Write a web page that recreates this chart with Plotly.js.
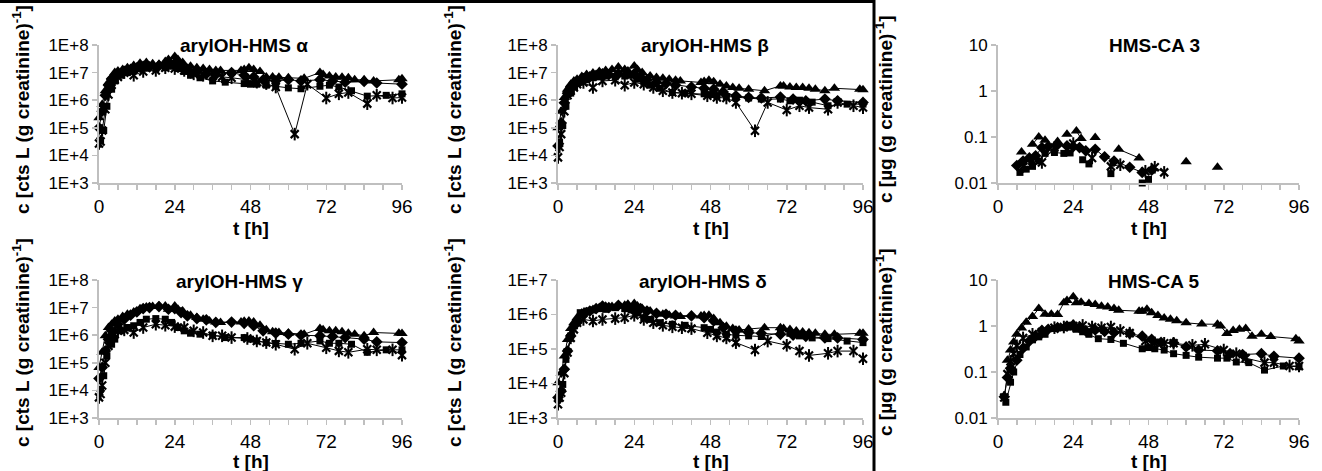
<!DOCTYPE html>
<html>
<head>
<meta charset="utf-8">
<script src="https://cdn.plot.ly/plotly-3.0.1.min.js"></script>
<style>html,body{margin:0;padding:0;background:#fff;}#chart{width:1322px;height:471px;}</style>
</head>
<body>
<div id="chart"></div>
<script>
// ---------- sampling times [h] per series ----------
const tD = [0, 1, 2, 3, 4, 6, 8, 10, 12, 14, 16, 19, 22, 24, 26, 28, 31, 34, 37, 42, 46, 49, 52, 56, 60, 64, 70, 74, 78, 84, 88, 96];
const tS = [0.5, 1.5, 2.5, 4, 5, 7, 9, 11, 13, 15, 18, 21, 23, 25, 27, 29, 32, 36, 40, 46, 48, 50, 53, 56, 60, 64, 70, 73, 76, 80, 85, 91, 96];
const tT = [0, 1, 2, 3, 4, 5, 6, 7.5, 9, 11, 13, 15, 17, 19, 21, 22, 24, 25, 26.5, 29, 31, 33, 35, 37, 38.5, 45, 46, 47.5, 49, 51, 53, 55, 57, 60, 65, 70, 71, 73, 75, 77, 79, 81, 84, 87, 95, 96];
const tX = [0, 0.5, 1, 2, 3, 4, 5, 6, 8, 11, 14, 18, 21, 24, 27, 30, 33, 36, 39, 42, 47, 50, 53, 56, 62, 66, 72, 76, 79, 85, 88, 93, 96];

// ---------- arylOH-HMS alpha ----------
const alphaD = [1.0e5,4e5,1.5e6,3.5e6,6e6,9e6,1.1e7, 1.3e7,1.5e7,1.7e7,1.6e7,1.8e7,2.0e7,2.2e7, 1.7e7,1.3e7,1.1e7,9e6,8.5e6,1.0e7, 8e6,7e6,5.5e6,5e6,5.5e6,5e6, 5.5e6,5e6,4.5e6,4.8e6,4.2e6,3.8e6];
const alphaS = [3.5e4,8e4,6e5,2.5e6,5e6,8e6,1.0e7, 1.2e7,1.4e7,1.5e7,1.4e7,1.5e7,1.7e7,1.4e7, 1.1e7,8e6,6.5e6,5e6,4.5e6,4e6,3.8e6, 3.8e6,3.5e6,3.2e6,2.8e6,2.6e6,3.2e6, 3.5e6,3e6,2.2e6,1.4e6,1.5e6,1.7e6];
const alphaT = [2.3e5,7e5,2.2e6,4.4e6,6.6e6,1.0e7,1.15e7, 1.3e7,1.5e7,1.8e7,2.2e7,2.3e7,2.1e7,2.0e7,2.5e7,3.0e7, 3.8e7,3.0e7,2.3e7,1.7e7,1.5e7,1.4e7,1.3e7,1.2e7,1.2e7, 1.2e7,1.3e7,1.5e7,1.3e7,1.1e7,7e6,7e6,6.8e6,6.5e6, 6.2e6,1.0e7,8.5e6,7.5e6,7e6,6.8e6,6.5e6,5.5e6,5.5e6,5e6,5.5e6,6e6];
const alphaX = [2.7e4,3.2e4,8e4,4.7e5,1.6e6,3.6e6,5.5e6,7e6, 1.0e7,8e6,1.1e7,1.2e7,1.5e7,1.4e7,1.2e7, 9e6,8e6,7.5e6,7e6,6.5e6,5.5e6,4.5e6, 4e6,3e6,5.9e4,3.8e6,1.2e6,1.7e6, 1.9e6,7.5e5,1.5e6,1.2e6,1.25e6];

// ---------- arylOH-HMS beta ----------
const betaD = [2.2e4,1.5e5,8e5,1.8e6,3e6,4.5e6,6e6, 7e6,8e6,9e6,8.5e6,9e6,9.5e6,9e6, 7e6,5.5e6,4.5e6,4e6,3.5e6,3e6, 2.7e6,2.5e6,2e6,1.45e6,1.26e6,1.2e6, 1.3e6,1.1e6,9.5e5,1.1e6,9.5e5,8.3e5];
const betaS = [3e4,1.2e5,6e5,1.8e6,3e6,4.5e6,5.5e6, 6.5e6,7e6,7.5e6,7e6,7.5e6,8e6,5.8e6, 4.5e6,3.5e6,2.7e6,1.9e6,1.8e6,1.7e6,1.6e6, 1.45e6,1.35e6,1.26e6,1.2e6,1.1e6,1.1e6, 9.5e5,1e6,8.5e5,6.3e5,7.2e5,7.2e5];
const betaT = [1e5,4e5,1.26e6,2.5e6,3.8e6,5e6,5.8e6, 7.2e6,8.5e6,9.6e6,1.1e7,1.2e7,1.3e7,1.6e7,1.3e7,1.15e7, 1.74e7,1.3e7,1e7,7.6e6,6.6e6,6.3e6,5.8e6,5.3e6,5e6, 4.4e6,4.8e6,5.3e6,4.7e6,3.8e6,3.3e6,2.9e6,2.7e6,2.5e6, 2.2e6,3.3e6,3.3e6,3e6,2.9e6,2.9e6,2.7e6,2.5e6,2.2e6,2.7e6,2.5e6,2.4e6];
const betaX = [8.5e3,2e4,5.9e4,4e5,1.5e6,2.2e6,2.9e6,3.8e6, 4.4e6,2.9e6,5e6,5.3e6,3.5e6,4.4e6,3.8e6, 2.9e6,2.2e6,1.9e6,1.8e6,1.7e6,1.45e6,1.26e6, 1.2e6,8.3e5,7.8e4,8.3e5,4.4e5,6.3e5, 5.4e5,4.7e5,8.3e5,6.3e5,5.4e5];

// ---------- arylOH-HMS gamma ----------
const gammaD = [2.7e4,6.8e4,2.7e5,7.2e5,1.44e6,2.5e6,3.8e6, 5.3e6,7e6,9.2e6,1e7,1.09e7,8.7e6,9.2e6, 6.6e6,5e6,4e6,3.6e6,2.9e6,3e6, 2.7e6,2.2e6,1.44e6,1.18e6,1.09e6,1e6, 9.5e5,9e5,8.2e5,7.2e5,5.75e5,5.4e5];
const gammaS = [1.1e4,3.4e4,1.8e5,4.7e5,7.2e5,1.44e6,1.9e6, 2.2e6,2.9e6,3.8e6,4e6,3.8e6,2.9e6,1.9e6, 1.44e6,1.18e6,1.09e6,1e6,8.2e5,8.2e5,7.2e5, 6.2e5,5.4e5,5e5,4.7e5,5.1e5,6.2e5, 5.1e5,5.1e5,4.7e5,2.4e5,2.95e5,2.95e5];
const gammaT = [6.8e4,2.4e5,9.5e5,1.9e6,2.5e6,3.3e6,3.8e6, 4.8e6,5.8e6,7e6,9e6,1.05e7,1.1e7,1.15e7,1.15e7,8.7e6, 1.15e7,8.7e6,7.5e6,5.3e6,4.4e6,3.8e6,3.3e6,3e6,2.9e6, 3e6,3.2e6,3.3e6,3e6,2.3e6,1.56e6,1.32e6,1.25e6,1.18e6, 1.09e6,1.74e6,1.56e6,1.44e6,1.44e6,1.32e6,1.18e6,1.09e6,9.5e5,1.25e6,1.18e6,1.15e6];
const gammaX = [5.6e3,7.4e3,1.5e4,1e5,4.1e5,8.2e5,1.09e6,1.44e6, 1.56e6,1.25e6,1.9e6,2.5e6,2.3e6,2.05e6,1.9e6, 1.44e6,1.25e6,9.5e5,9.5e5,8.2e5,7.6e5,6.2e5, 5.4e5,4.7e5,3.1e5,5.1e5,3.5e5,2.7e5, 2.4e5,3.1e5,2.95e5,2.95e5,1.9e5];

// ---------- arylOH-HMS delta ----------
const deltaD = [3.9e3,6e3,2.6e4,8.7e4,2.4e5,5.8e5,1.01e6, 1.26e6,1.48e6,1.76e6,1.58e6,1.85e6,1.76e6,1.69e6, 1.48e6,1.26e6,1.08e6,1.01e6,9.5e5,9.1e5, 8.1e5,6.5e5,4.15e5,3.3e5,2.97e5,2.85e5, 2.66e5,2.5e5,2.3e5,2.1e5,2.1e5,1.9e5];
const deltaS = [4.9e3,9.4e3,5e4,2.4e5,4.6e5,1.13e6,1.26e6, 1.35e6,1.48e6,1.41e6,1.58e6,1.48e6,1.35e6,1.13e6, 8.1e5,7.2e5,5.8e5,5.2e5,4.85e5,4.15e5,3.7e5, 3.1e5,2.66e5,2.5e5,2.4e5,2.3e5,2.97e5, 2.85e5,2.4e5,2.1e5,2e5,1.7e5,1.53e5];
const deltaT = [1.05e4,2e4,6.3e4,1.9e5,3.9e5,5.8e5,8.1e5, 1.1e6,1.2e6,1.4e6,1.6e6,1.72e6,1.7e6,1.76e6,1.85e6,1.97e6, 2.1e6,1.76e6,1.5e6,1.26e6,1.08e6,1.01e6,9.5e5,9.1e5,8.7e5, 9.1e5,9.3e5,9.5e5,7.6e5,5.8e5,4.6e5,3.9e5,3.55e5,3.8e5, 4.15e5,4.15e5,3.9e5,3.7e5,3.3e5,3.1e5,2.97e5,2.85e5,2.66e5,2.66e5,2.85e5,2.85e5];
const deltaX = [2.5e3,3.9e3,5.4e3,2e4,7.9e4,2.1e5,3.7e5,5.8e5, 7.2e5,6.5e5,7.2e5,7.6e5,8.1e5,9.5e5,7.2e5, 5.8e5,4.85e5,4.4e5,4.15e5,3.9e5,2.97e5,2.4e5, 2.1e5,1.53e5,9.3e4,1.7e5,1.28e5,8.7e4, 6.5e4,7.5e4,8.7e4,8.7e4,5.2e4];

// ---------- HMS-CA 3 [µg/g creatinine] ----------
const ca3D = [null,null,null,null,null,0.024,0.03, 0.035,0.039,0.059,0.062,0.068,0.064,0.062, 0.059,0.05,0.054,0.037,0.03,0.022, 0.017,0.019,null,null,null,null, null,null,null,null,null,null];
const ca3S = [null,null,null,null,null,0.017,0.02, 0.023,0.03,0.044,0.046,0.044,0.045,null, 0.032,0.026,null,0.016,null,0.010,0.012, null,null,null,null,null,null, null,null,null,null,null,null];
const ca3T = [null,null,null,null,null,null,null, 0.047,null,0.07,0.10,0.085,null,0.08,null,0.115, null,0.135,0.093,null,0.097,null,null,null,0.054, 0.035,null,null,null,null,null,null,null,0.029, null,0.022,null,null,null,null,null,null,null,null,null,null];
const ca3X = [null,null,null,null,null,null,null,null, 0.023,0.03,0.028,0.059,null,0.072,null, 0.035,null,0.023,0.025,null,0.018,0.022, 0.017,null,null,null,null,null, null,null,null,null,null];

// ---------- HMS-CA 5 [µg/g creatinine] ----------
const ca5D = [null,null,0.029,0.076,0.12,0.18,0.33, 0.47,0.6,0.8,0.85,0.92,1.0,1.05, 0.92,0.78,0.82,0.76,0.72,0.69, 0.6,0.51,0.44,0.43,0.35,0.3, 0.29,0.25,0.24,0.25,0.22,0.2];
const ca5S = [null,null,0.022,0.06,0.1,0.24,0.35, 0.5,0.58,0.66,0.88,0.92,0.95,0.85, 0.75,0.66,0.53,0.51,0.42,0.32,0.34, 0.32,0.3,0.25,0.23,0.21,0.2, 0.2,0.165,0.16,0.11,0.135,0.13];
const ca5T = [null,null,null,0.18,0.3,0.45,0.66, 0.9,1.2,1.6,2.4,1.8,1.8,1.78,3.2,3.6, 4.3,3.2,3.3,3.1,2.95,2.7,2.6,2.4,2.2, 2.1,2.1,2.3,1.95,1.7,1.5,1.4,1.3,1.17, 1.1,1.09,1.0,0.69,0.8,0.85,0.88,0.6,0.66,0.59,0.53,0.47];
const ca5X = [null,null,null,0.028,0.09,0.17,0.25,0.37, 0.55,0.66,0.74,0.92,0.95,1.0,1.03, 0.95,0.92,0.95,0.8,0.7,0.47,0.43, 0.42,0.42,0.38,0.4,0.3,0.25, 0.2,0.16,0.16,0.135,0.135];

// ---------- titles & ticks ----------
const panelTitles = ['arylOH-HMS α', 'arylOH-HMS β', 'HMS-CA 3', 'arylOH-HMS γ', 'arylOH-HMS δ', 'HMS-CA 5'];
const yTitleCts = 'c [cts L (g creatinine)<sup>-1</sup>]';
const yTitleUg = 'c [µg (g creatinine)<sup>-1</sup>]';
const xTitle = 't [h]';
const xTickVals = [0, 6, 12, 18, 24, 30, 36, 42, 48, 54, 60, 66, 72, 78, 84, 90, 96];
const xTickText = ['0', '', '', '', '24', '', '', '', '48', '', '', '', '72', '', '', '', '96'];
const yTickValsCts = [1e3, 1e4, 1e5, 1e6, 1e7, 1e8];
const yTickTextCts = ['1E+3', '1E+4', '1E+5', '1E+6', '1E+7', '1E+8'];
const yTickValsUg = [0.01, 0.1, 1, 10];
const yTickTextUg = ['0.01', '0.1', '1', '10'];

// ---------- layout geometry (pixels) ----------
const W = 1322, H = 471;
const FONT = 'Liberation Sans, Arial, sans-serif';
const colPx = [[99, 402], [558, 863], [998, 1299]];
const rowPx = [[45, 183], [280, 418]];
const titleCx = [244, 705, 1154, 239, 703, 1154];
const yTitleX = [21, 453, 884];
const yTitleCy = [110, 343];
const xTitleCy = [228, 461];

const panels = [
  {series: [alphaD, alphaS, alphaT, alphaX], yr: [3, 8], tv: yTickValsCts, tt: yTickTextCts, yt: yTitleCts},
  {series: [betaD, betaS, betaT, betaX], yr: [3, 8], tv: yTickValsCts, tt: yTickTextCts, yt: yTitleCts},
  {series: [ca3D, ca3S, ca3T, ca3X], yr: [-2, 1], tv: yTickValsUg, tt: yTickTextUg, yt: yTitleUg},
  {series: [gammaD, gammaS, gammaT, gammaX], yr: [3, 8], tv: yTickValsCts, tt: yTickTextCts, yt: yTitleCts},
  {series: [deltaD, deltaS, deltaT, deltaX], yr: [3, 7], tv: yTickValsCts.slice(0, 5), tt: yTickTextCts.slice(0, 5), yt: yTitleCts},
  {series: [ca5D, ca5S, ca5T, ca5X], yr: [-2, 1], tv: yTickValsUg, tt: yTickTextUg, yt: yTitleUg}
];
const times = [tD, tS, tT, tX];
const symbols = ['diamond', 'square', 'triangle-up', 'x-thin-open'];
const sizes = [9, 7, 10, 8];

const traces = [];
const layout = {
  width: W, height: H,
  margin: {l: 0, r: 0, t: 0, b: 0},
  paper_bgcolor: '#fff', plot_bgcolor: 'rgba(0,0,0,0)',
  showlegend: false,
  font: {family: FONT, color: '#000'},
  annotations: [],
  shapes: [
    {type: 'line', xref: 'paper', yref: 'paper', x0: 0, x1: 874 / W, y0: 1 - 1.5 / H, y1: 1 - 1.5 / H, line: {color: '#000', width: 3}},
    {type: 'line', xref: 'paper', yref: 'paper', x0: 874 / W, x1: 874 / W, y0: 0, y1: 1, line: {color: '#000', width: 3}}
  ]
};

panels.forEach((p, i) => {
  const col = i % 3, row = Math.floor(i / 3);
  const sfx = i === 0 ? '' : String(i + 1);
  const xa = 'x' + sfx, ya = 'y' + sfx;
  p.series.forEach((vals, k) => {
    traces.push({
      type: 'scatter', mode: 'lines+markers', x: times[k], y: vals, xaxis: xa, yaxis: ya,
      cliponaxis: false, connectgaps: false,
      line: {color: '#000', width: 1},
      marker: {symbol: symbols[k], size: sizes[k], color: '#000', line: {color: '#000', width: k === 3 ? 2.2 : 0}},
      hoverinfo: 'skip'
    });
    if (k === 3) {
      traces.push({
        type: 'scatter', mode: 'markers', x: times[k], y: vals, xaxis: xa, yaxis: ya, cliponaxis: false,
        marker: {symbol: 'line-ns-open', size: 9, color: '#000', line: {color: '#000', width: 2}},
        hoverinfo: 'skip'
      });
    }
  });
  const axCommon = {
    showline: true, linecolor: '#bfbfbf', linewidth: 2, showgrid: false, zeroline: false,
    ticks: 'outside', ticklen: 5, tickwidth: 1.5, tickcolor: '#bfbfbf', fixedrange: true
  };
  layout['xaxis' + sfx] = Object.assign({}, axCommon, {
    domain: [colPx[col][0] / W, colPx[col][1] / W], anchor: ya, range: [0, 96],
    tickmode: 'array', tickvals: xTickVals, ticktext: xTickText,
    tickfont: {family: FONT, size: 19, color: '#000'}
  });
  layout['yaxis' + sfx] = Object.assign({}, axCommon, {
    domain: [1 - rowPx[row][1] / H, 1 - rowPx[row][0] / H], anchor: xa, type: 'log', range: p.yr,
    tickmode: 'array', tickvals: p.tv, ticktext: p.tt,
    tickfont: {family: FONT, size: 17, color: '#000'}
  });
  // panel title
  layout.annotations.push({
    xref: 'paper', yref: 'paper', x: titleCx[i] / W, y: 1 - (rowPx[row][0] + 1) / H,
    xanchor: 'center', yanchor: 'middle', showarrow: false,
    text: '<b>' + panelTitles[i] + '</b>', font: {family: FONT, size: 19, color: '#000'}
  });
  // x title
  layout.annotations.push({
    xref: 'paper', yref: 'paper', x: (colPx[col][0] + colPx[col][1]) / 2 / W, y: 1 - xTitleCy[row] / H,
    xanchor: 'center', yanchor: 'middle', showarrow: false,
    text: '<b>' + xTitle + '</b>', font: {family: FONT, size: 19, color: '#000'}
  });
  // y title
  layout.annotations.push({
    xref: 'paper', yref: 'paper', x: yTitleX[col] / W, y: 1 - yTitleCy[row] / H,
    xanchor: 'center', yanchor: 'middle', showarrow: false, textangle: -90,
    text: '<b>' + p.yt + '</b>', font: {family: FONT, size: 19, color: '#000'}
  });
});

Plotly.newPlot('chart', traces, layout, {staticPlot: true, displayModeBar: false});
</script>
</body>
</html>
